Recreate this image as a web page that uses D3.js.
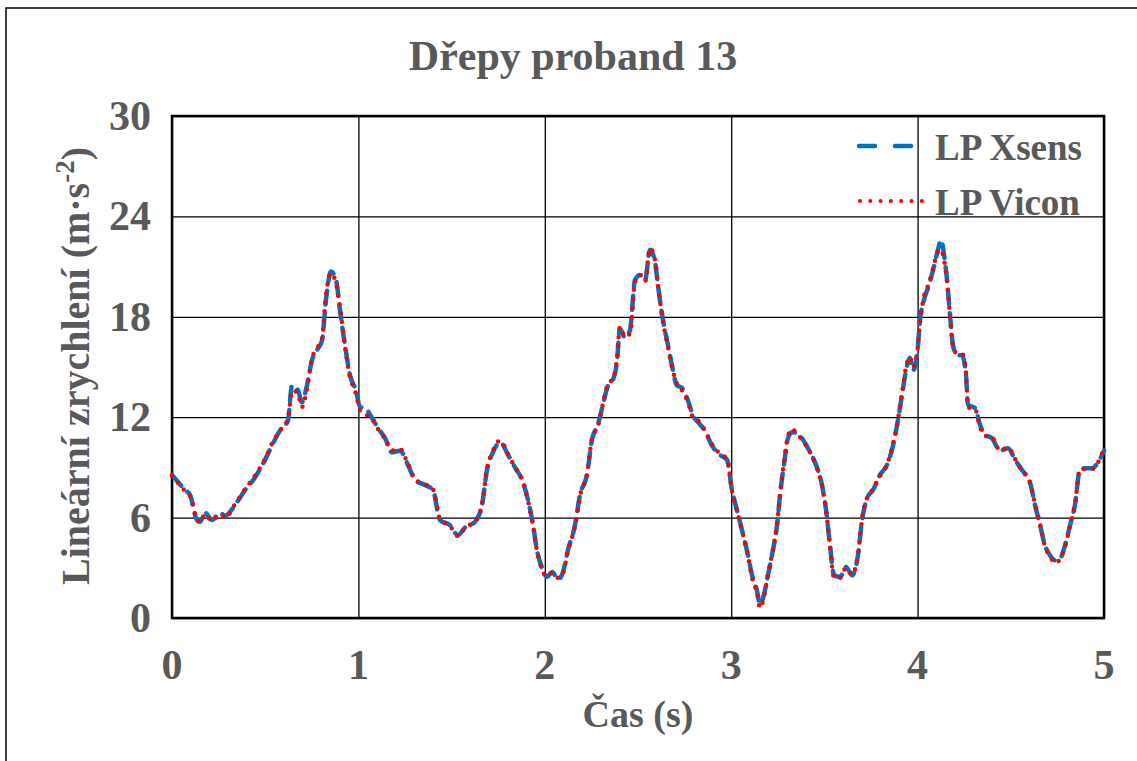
<!DOCTYPE html>
<html>
<head>
<meta charset="utf-8">
<script src="https://cdn.jsdelivr.net/npm/d3@7"></script>
<style>
  body { margin: 0; background: #fff; }
  text { font-family: "Liberation Serif", "Times New Roman", serif; font-weight: bold; fill: #595959; }
</style>
</head>
<body>
<div class="chart"></div>
<script>
var width = 1137
var height = 761

// time (s)
var time = [0, 0.07, 0.097, 0.134, 0.15, 0.177, 0.215, 0.258, 0.284, 0.338, 0.392, 0.445, 0.499, 0.536, 0.579, 0.622,
  0.644, 0.676, 0.697, 0.724, 0.751, 0.783, 0.805, 0.826, 0.853, 0.88, 0.901, 0.928, 0.955, 0.987, 1.009, 1.035,
  1.073, 1.105, 1.143, 1.18, 1.223, 1.266, 1.304, 1.357, 1.4, 1.438, 1.491, 1.534, 1.572, 1.626, 1.663, 1.69,
  1.722, 1.76, 1.803, 1.84, 1.878, 1.91, 1.937, 1.958, 1.985, 2.012, 2.039, 2.071, 2.098, 2.124, 2.162, 2.189,
  2.226, 2.253, 2.285, 2.312, 2.339, 2.366, 2.387, 2.403, 2.43, 2.457, 2.484, 2.511, 2.538, 2.564, 2.591, 2.607,
  2.634, 2.661, 2.682, 2.709, 2.736, 2.768, 2.795, 2.822, 2.859, 2.897, 2.94, 2.978, 3.004, 3.031, 3.058, 3.09,
  3.112, 3.138, 3.155, 3.176, 3.197, 3.224, 3.246, 3.262, 3.283, 3.305, 3.326, 3.353, 3.385, 3.423, 3.455, 3.487,
  3.509, 3.53, 3.552, 3.584, 3.616, 3.648, 3.68, 3.702, 3.729, 3.761, 3.798, 3.836, 3.868, 3.895, 3.916, 3.938,
  3.959, 3.975, 3.997, 4.013, 4.034, 4.061, 4.083, 4.109, 4.126, 4.142, 4.158, 4.174, 4.19, 4.212, 4.238, 4.26,
  4.27, 4.308, 4.335, 4.362, 4.399, 4.442, 4.485, 4.523, 4.56, 4.603, 4.63, 4.657, 4.683, 4.71, 4.737, 4.764,
  4.791, 4.818, 4.844, 4.871, 4.903, 4.936, 4.968, 5.0]

var xsens = [8.55, 7.65, 7.35, 5.85, 5.75, 6.3, 5.85, 6.3, 6.1, 6.75, 7.65, 8.4, 9.45, 10.3, 11.2, 11.8,
  13.9, 13.6, 12.9, 13.9, 15.4, 16.1, 16.6, 19.0, 20.7, 20.2, 18.4, 16.3, 14.5, 13.6, 12.6, 12.55,
  11.95, 11.35, 10.75, 9.9, 10.0, 9.15, 8.25, 7.95, 7.65, 5.85, 5.55, 4.95, 5.4, 5.75, 6.75, 8.85,
  9.9, 10.5, 9.75, 9.0, 8.25, 7.05, 5.55, 4.05, 3.0, 2.45, 2.75, 2.3, 2.75, 4.05, 5.55, 7.35,
  8.55, 10.65, 11.55, 12.75, 13.9, 14.25, 15.3, 17.3, 16.75, 17.2, 20.2, 20.5, 20.2, 22.0, 21.3, 19.9,
  17.8, 16.3, 15.1, 13.9, 13.75, 13.0, 12.1, 11.7, 11.2, 10.3, 9.75, 9.45, 7.65, 6.45, 5.25, 3.75,
  2.55, 1.65, 0.8, 1.4, 2.55, 4.05, 5.55, 7.35, 9.15, 10.75, 11.1, 11.05, 10.65, 9.9, 9.15, 7.95,
  6.45, 4.35, 2.55, 2.45, 3.05, 2.55, 3.75, 5.85, 7.15, 7.65, 8.55, 9.15, 10.3, 11.85, 13.3, 14.8,
  15.55, 14.8, 15.7, 17.8, 19.0, 19.9, 20.8, 22.0, 22.6, 21.7, 20.2, 18.1, 16.3, 15.7, 15.7, 14.5,
  12.75, 12.55, 11.55, 10.95, 10.75, 10.0, 10.15, 9.45, 8.85, 8.1, 6.75, 5.55, 4.35, 3.75, 3.45, 3.55,
  4.35, 5.55, 6.75, 8.85, 8.95, 8.95, 9.3, 10.0]

var vicon = [8.5, 7.6, 7.3, 5.9, 5.7, 6.2, 5.8, 6.2, 6.0, 6.8, 7.7, 8.5, 9.5, 10.4, 11.2, 11.9,
  13.6, 13.4, 12.6, 13.7, 15.5, 16.2, 16.7, 19.3, 20.6, 20.0, 18.6, 16.2, 14.4, 13.4, 12.4, 12.2,
  11.9, 11.3, 10.7, 10.0, 10.1, 9.2, 8.3, 8.0, 7.7, 5.9, 5.5, 4.9, 5.4, 5.8, 6.8, 8.9,
  10.0, 10.6, 9.8, 9.0, 8.3, 7.0, 5.5, 4.0, 2.9, 2.5, 2.7, 2.4, 2.7, 4.0, 5.5, 7.3,
  8.6, 10.7, 11.5, 12.8, 14.0, 14.3, 15.5, 17.4, 16.8, 17.0, 20.1, 20.5, 20.1, 22.1, 21.4, 19.9,
  17.7, 16.2, 15.0, 14.0, 13.6, 12.9, 12.0, 11.8, 11.2, 10.4, 9.8, 9.5, 7.6, 6.4, 5.2, 3.7,
  2.4, 1.5, 0.6, 1.3, 2.6, 4.1, 5.6, 7.4, 9.3, 10.9, 11.3, 11.0, 10.6, 9.9, 9.1, 7.9,
  6.4, 4.3, 2.4, 2.4, 3.0, 2.6, 3.8, 5.9, 7.2, 7.7, 8.5, 9.2, 10.4, 11.9, 13.4, 15.0,
  15.6, 15.0, 15.8, 17.7, 19.2, 20.0, 20.9, 21.9, 22.0, 21.4, 20.1, 18.0, 16.2, 15.8, 15.8, 14.6,
  12.6, 12.5, 11.4, 10.9, 10.8, 10.0, 10.2, 9.5, 8.8, 8.1, 6.8, 5.6, 4.3, 3.7, 3.3, 3.5,
  4.3, 5.5, 6.8, 8.9, 8.9, 8.9, 9.3, 10.1]

var xTicks = [0, 1, 2, 3, 4, 5]
var yTicks = [0, 6, 12, 18, 24, 30]

var margin = { left: 172, right: 1104, top: 116, bottom: 618 }

var svg = d3.select('.chart')
  .append('svg')
  .attr('width', width)
  .attr('height', height)

// outer chart frame
svg.append('rect')
  .attr('x', 6)
  .attr('y', 8)
  .attr('width', width + 10)
  .attr('height', height + 10)
  .attr('fill', '#fff')
  .attr('stroke', '#000')
  .attr('stroke-width', 1.5)

var x = d3.scaleLinear().domain([0, 5]).range([margin.left, margin.right])
var y = d3.scaleLinear().domain([0, 30]).range([margin.bottom, margin.top])

// grid
svg.append('g')
  .attr('transform', 'translate(0,' + margin.bottom + ')')
  .call(d3.axisBottom(x).tickValues(xTicks).tickSize(-(margin.bottom - margin.top)).tickFormat(''))
  .call(function (g) {
    g.select('.domain').remove()
    g.selectAll('line').attr('stroke', '#000').attr('stroke-width', 1.3)
  })

svg.append('g')
  .attr('transform', 'translate(' + margin.left + ',0)')
  .call(d3.axisLeft(y).tickValues(yTicks).tickSize(-(margin.right - margin.left)).tickFormat(''))
  .call(function (g) {
    g.select('.domain').remove()
    g.selectAll('line').attr('stroke', '#000').attr('stroke-width', 1.3)
  })

svg.append('rect')
  .attr('x', margin.left)
  .attr('y', margin.top)
  .attr('width', margin.right - margin.left)
  .attr('height', margin.bottom - margin.top)
  .attr('fill', 'none')
  .attr('stroke', '#000')
  .attr('stroke-width', 2.5)

// tick labels
svg.selectAll('.ylab')
  .data(yTicks)
  .enter()
  .append('text')
  .attr('class', 'ylab')
  .attr('x', 151)
  .attr('y', function (d) { return y(d) + 14 })
  .attr('text-anchor', 'end')
  .style('font-size', '42px')
  .text(function (d) { return d })

svg.selectAll('.xlab')
  .data(xTicks)
  .enter()
  .append('text')
  .attr('class', 'xlab')
  .attr('x', function (d) { return x(d) })
  .attr('y', 679)
  .attr('text-anchor', 'middle')
  .style('font-size', '42px')
  .text(function (d) { return d })

// series
var line = d3.line()
  .x(function (d) { return x(d[0]) })
  .y(function (d) { return y(d[1]) })
  .curve(d3.curveMonotoneX)

var xsensData = time.map(function (t, i) { return [t, xsens[i]] })
var viconData = time.map(function (t, i) { return [t, vicon[i]] })

svg.append('path')
  .datum(xsensData)
  .attr('d', line)
  .attr('fill', 'none')
  .attr('stroke', '#0070C0')
  .attr('stroke-width', 4.5)
  .attr('stroke-linecap', 'round')
  .attr('stroke-dasharray', '14,9')

svg.append('path')
  .datum(viconData)
  .attr('d', line)
  .attr('fill', 'none')
  .attr('stroke', '#FF0000')
  .attr('stroke-width', 4.5)
  .attr('stroke-linecap', 'round')
  .attr('stroke-dasharray', '0,9')

// legend
svg.append('line')
  .attr('x1', 859).attr('x2', 913).attr('y1', 146).attr('y2', 146)
  .attr('stroke', '#0070C0').attr('stroke-width', 4.5)
  .attr('stroke-linecap', 'round').attr('stroke-dasharray', '16,20')
svg.append('line')
  .attr('x1', 860).attr('x2', 922).attr('y1', 201).attr('y2', 201)
  .attr('stroke', '#FF0000').attr('stroke-width', 4)
  .attr('stroke-linecap', 'round').attr('stroke-dasharray', '0,10.3')

svg.append('text').attr('x', 935).attr('y', 160).style('font-size', '37px').text('LP Xsens')
svg.append('text').attr('x', 935).attr('y', 215).style('font-size', '37px').text('LP Vicon')

// titles
svg.append('text')
  .attr('x', 573)
  .attr('y', 70)
  .attr('text-anchor', 'middle')
  .style('font-size', '42px')
  .text('Dřepy proband 13')

svg.append('text')
  .attr('x', 638)
  .attr('y', 727)
  .attr('text-anchor', 'middle')
  .style('font-size', '38px')
  .text('Čas (s)')

var ylab = svg.append('text')
  .attr('transform', 'translate(89,366) rotate(-90)')
  .attr('text-anchor', 'middle')
  .style('font-size', '40px')
ylab.append('tspan').text('Lineární zrychlení (m·s')
ylab.append('tspan').attr('baseline-shift', 'super').style('font-size', '27px').text('-2')
ylab.append('tspan').text(')')
</script>
</body>
</html>
